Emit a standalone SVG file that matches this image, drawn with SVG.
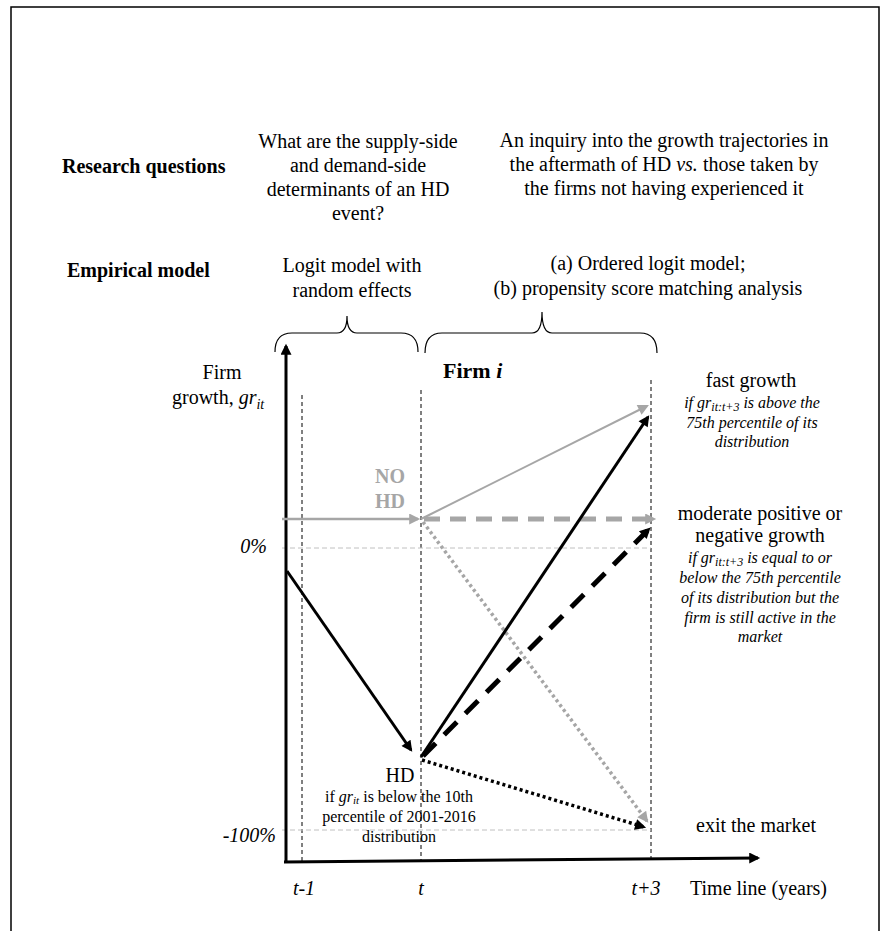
<svg xmlns="http://www.w3.org/2000/svg" width="885" height="931" viewBox="0 0 885 931">
<style>
text{font-family:"Liberation Serif","Times New Roman",serif;fill:#000}
.t20{font-size:20px}
.t16{font-size:16px}
.b{font-weight:bold}
.i{font-style:italic}
.c{text-anchor:middle}
.grey{fill:#a6a6a6}
.vd{stroke:#000;stroke-width:1;stroke-dasharray:4 3;fill:none}
.hd{stroke:#c0c0c0;stroke-width:1;stroke-dasharray:5 3;fill:none}
.brace{stroke:#000;stroke-width:1.2;fill:none}
</style>
<defs>
<marker id="ab" viewBox="0 0 10 10" refX="8" refY="5" markerWidth="15" markerHeight="11" orient="auto" markerUnits="userSpaceOnUse"><path d="M0,0 L10,5 L0,10 z" fill="#000"/></marker>
<marker id="ag" viewBox="0 0 10 10" refX="8" refY="5" markerWidth="15" markerHeight="11" orient="auto" markerUnits="userSpaceOnUse"><path d="M0,0 L10,5 L0,10 z" fill="#a6a6a6"/></marker>
</defs>
<rect width="885" height="931" fill="#fff"/>
<path d="M11,931 V7 H879 V931" fill="none" stroke="#000" stroke-width="1.5"/>

<g id="labels">
<text class="t20 b" x="62" y="173">Research questions</text>
<text class="t20 b" x="67" y="277">Empirical model</text>
</g>
<g id="rq1">
<text class="t20 c" x="358" y="148">What are the supply-side</text>
<text class="t20 c" x="358" y="172">and demand-side</text>
<text class="t20 c" x="358" y="196">determinants of an HD</text>
<text class="t20 c" x="358" y="220">event?</text>
</g>
<g id="rq2">
<text class="t20 c" x="664" y="147">An inquiry into the growth trajectories in</text>
<text class="t20 c" x="664" y="171">the aftermath of HD <tspan class="i">vs.</tspan> those taken by</text>
<text class="t20 c" x="664" y="195">the firms not having experienced it</text>
</g>
<g id="em1">
<text class="t20 c" x="352" y="272">Logit model with</text>
<text class="t20 c" x="352" y="297">random effects</text>
</g>
<g id="em2">
<text class="t20 c" x="648" y="270">(a) Ordered logit model;</text>
<text class="t20 c" x="648" y="295">(b) propensity score matching analysis</text>
</g>
<g id="braces">
<path class="brace" d="M275,352 Q275,333 292,333 L337,333 Q347,333 347,316 Q347,333 357,333 L401,333 Q418,333 418,352"/>
<path class="brace" d="M425,353 Q425,333 442,333 L532,333 Q542,333 542,312 Q542,333 552,333 L640,333 Q657,333 657,353"/>
</g>

<g id="grid">
<line class="vd" x1="302" y1="395" x2="302" y2="862"/>
<line class="vd" x1="421" y1="390" x2="421" y2="862"/>
<line class="vd" x1="651" y1="380" x2="651" y2="862"/>
<line class="hd" x1="282" y1="548" x2="651" y2="548"/>
<line class="hd" x1="282" y1="830" x2="651" y2="830"/>
</g>

<g id="axes">
<line x1="286" y1="863" x2="286" y2="346" stroke="#000" stroke-width="3" marker-end="url(#ab)"/>
<line x1="284" y1="862" x2="758" y2="858" stroke="#000" stroke-width="3" marker-end="url(#ab)"/>
<text class="t20" x="222" y="379" text-anchor="middle">Firm</text>
<text class="t20" x="172" y="404">growth, <tspan class="i">gr</tspan><tspan class="i" font-size="14" dy="5">it</tspan></text>
<text class="t20 i" x="267" y="553" text-anchor="end">0%</text>
<text class="t20 i" x="276" y="842" text-anchor="end">-100%</text>
<text class="t20 i c" x="304" y="895">t-1</text>
<text class="t20 i c" x="421" y="895">t</text>
<text class="t20 i c" x="646" y="895">t+3</text>
<text class="t20" x="690" y="895">Time line (years)</text>
</g>

<g id="firm">
<text x="443" y="378" font-size="22" class="b">Firm <tspan class="i">i</tspan></text>
</g>

<g id="nohd">
<text class="t20 b c grey" x="390" y="483">NO</text>
<text class="t20 b c grey" x="390" y="508">HD</text>
</g>

<g id="hd">
<text class="t20 c" x="400" y="782">HD</text>
<text class="t16 c" x="399" y="802">if <tspan class="i">gr</tspan><tspan class="i" font-size="11" dy="2">it</tspan><tspan dy="-2"> is below the 10th</tspan></text>
<text class="t16 c" x="399" y="822">percentile of 2001-2016</text>
<text class="t16 c" x="399" y="842">distribution</text>
</g>

<g id="fast">
<text class="t20 c" x="751" y="387">fast growth</text>
<text class="t16 i c" x="752" y="408">if gr<tspan font-size="12" dy="3">it:t+3</tspan><tspan dy="-3"> is above the</tspan></text>
<text class="t16 i c" x="752" y="428">75th percentile of its</text>
<text class="t16 i c" x="752" y="447">distribution</text>
</g>

<g id="moderate">
<text class="t20 c" x="760" y="520">moderate positive or</text>
<text class="t20 c" x="760" y="542">negative growth</text>
<text class="t16 i c" x="760" y="563">if gr<tspan font-size="12" dy="3">it:t+3</tspan><tspan dy="-3"> is equal to or</tspan></text>
<text class="t16 i c" x="760" y="583">below the 75th percentile</text>
<text class="t16 i c" x="760" y="603">of its distribution but the</text>
<text class="t16 i c" x="760" y="623">firm is still active in the</text>
<text class="t16 i c" x="760" y="642">market</text>
</g>

<g id="exit">
<text class="t20 c" x="756" y="832">exit the market</text>
</g>

<g id="connectors">
<line x1="282" y1="519" x2="418" y2="519" stroke="#a6a6a6" stroke-width="2.5" marker-end="url(#ag)"/>
<line x1="421" y1="519" x2="647" y2="406" stroke="#a6a6a6" stroke-width="2" marker-end="url(#ag)"/>
<line x1="424" y1="519" x2="654" y2="519" stroke="#a6a6a6" stroke-width="5" stroke-dasharray="16 10" marker-end="url(#ag)"/>
<line x1="423" y1="522" x2="647" y2="821" stroke="#a6a6a6" stroke-width="3.5" stroke-dasharray="3 3" marker-end="url(#ag)"/>
<line x1="287" y1="571" x2="411" y2="750" stroke="#000" stroke-width="3" marker-end="url(#ab)"/>
<line x1="421" y1="757" x2="648" y2="417" stroke="#000" stroke-width="3" marker-end="url(#ab)"/>
<line x1="423" y1="756" x2="649" y2="529" stroke="#000" stroke-width="5" stroke-dasharray="18 12" marker-end="url(#ab)"/>
<line x1="422" y1="760" x2="644" y2="827" stroke="#000" stroke-width="3.5" stroke-dasharray="3 3" marker-end="url(#ab)"/>
</g>
</svg>
